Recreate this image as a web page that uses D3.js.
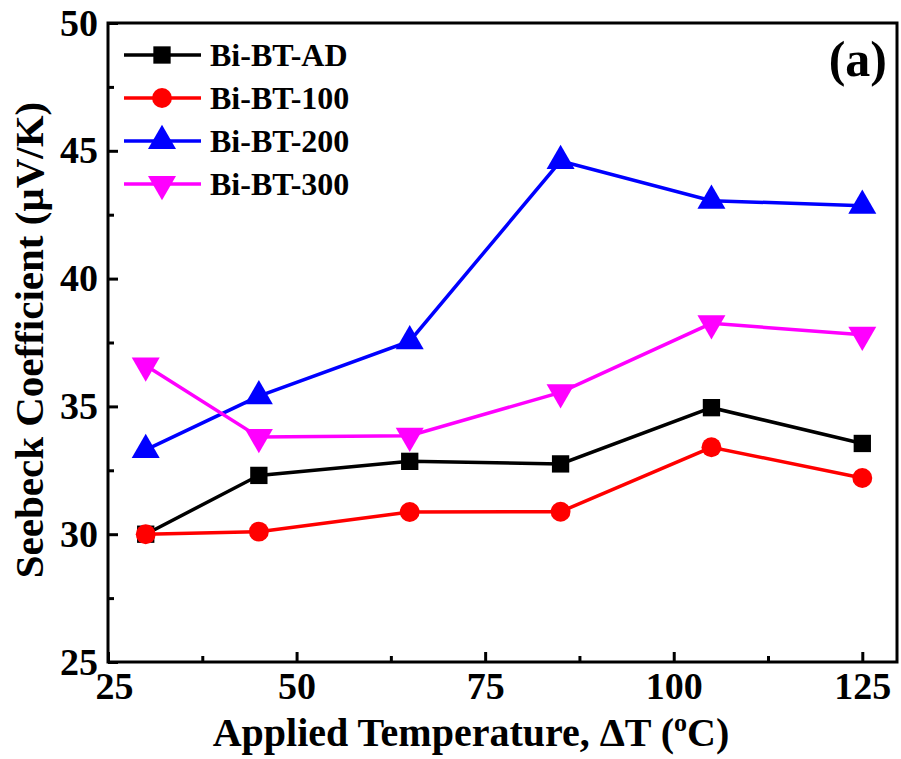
<!DOCTYPE html>
<html lang="en">
<head>
  <meta charset="UTF-8">
  <title>Seebeck Coefficient</title>
  <style>
    body { margin: 0; background: #fff; }
    text { font-family: "Liberation Serif", "Times New Roman", serif; font-weight: bold; }
  </style>
</head>
<body>
  <svg id="chart" width="901" height="759"></svg>
  <script src="https://d3js.org/d3.v7.min.js"></script>
  <script>
    const temps = [30, 45, 65, 85, 105, 125];
    const seriesNames = ["Bi-BT-AD", "Bi-BT-100", "Bi-BT-200", "Bi-BT-300"];
    const valuesAD = [30.0, 32.3, 32.85, 32.75, 34.95, 33.55];
    const values100 = [30.0, 30.1, 30.87, 30.88, 33.4, 32.2];
    const values200 = [33.3, 35.4, 37.55, 44.6, 43.05, 42.85];
    const values300 = [36.6, 33.8, 33.85, 35.55, 38.25, 37.8];
    const xTicks = [25, 50, 75, 100, 125];
    const yTicks = [25, 30, 35, 40, 45, 50];

    const colors = ["#000000", "#ff0000", "#0000ff", "#ff00ff"];
    const symbols = [d3.symbolSquare, d3.symbolCircle, d3.symbolTriangle, d3.symbolTriangle];
    const allValues = [valuesAD, values100, values200, values300];

    const margin = { top: 23, right: 4, bottom: 97, left: 108 };
    const width = 901 - margin.left - margin.right;
    const height = 759 - margin.top - margin.bottom;

    const svg = d3.select("#chart")
      .append("g")
      .attr("transform", `translate(${margin.left}, ${margin.top})`);

    const xScale = d3.scaleLinear().domain([25, 129.6]).range([0, width]);
    const yScale = d3.scaleLinear().domain([25, 50]).range([height, 0]);

    // ticks point inward, major + minor
    const xAxis = d3.axisBottom(xScale).tickValues(xTicks).tickSize(-10).tickPadding(12);
    const yAxis = d3.axisLeft(yScale).tickValues(yTicks).tickSize(-10).tickPadding(10);

    const gx = svg.append("g").attr("transform", `translate(0, ${height})`).call(xAxis);
    const gy = svg.append("g").call(yAxis);
    [gx, gy].forEach(g => {
      g.select(".domain").remove();
      g.selectAll(".tick line").attr("stroke", "#000").attr("stroke-width", 3);
      g.selectAll(".tick text").attr("fill", "#000").style("font-size", "38px");
    });
    gx.selectAll(".tick text").attr("dy", "0.66em");
    // nudge the first x label right so it clears the y "25"
    gx.selectAll(".tick text").filter(d => d === 25).attr("dx", 6);

    svg.append("g").attr("transform", `translate(0, ${height})`)
      .call(d3.axisBottom(xScale).tickValues([37.5, 62.5, 87.5, 112.5]).tickSize(-6).tickFormat(""))
      .call(g => g.select(".domain").remove())
      .selectAll("line").attr("stroke", "#000").attr("stroke-width", 3);
    svg.append("g")
      .call(d3.axisLeft(yScale).tickValues([27.5, 32.5, 37.5, 42.5, 47.5]).tickSize(-6).tickFormat(""))
      .call(g => g.select(".domain").remove())
      .selectAll("line").attr("stroke", "#000").attr("stroke-width", 3);

    // frame
    svg.append("rect")
      .attr("x", 0).attr("y", 0)
      .attr("width", width).attr("height", height)
      .attr("fill", "none").attr("stroke", "#000").attr("stroke-width", 3);

    const line = d3.line()
      .x((d, i) => xScale(temps[i]))
      .y(d => yScale(d));

    const markerSizes = [300, 310, 340, 340];

    allValues.forEach((vals, k) => {
      svg.append("path")
        .datum(vals)
        .attr("fill", "none")
        .attr("stroke", colors[k])
        .attr("stroke-width", 3.5)
        .attr("d", line);
      svg.selectAll(null)
        .data(vals)
        .enter()
        .append("path")
        .attr("d", d3.symbol().type(symbols[k]).size(markerSizes[k]))
        .attr("fill", colors[k])
        .attr("transform", (d, i) => `translate(${xScale(temps[i])}, ${yScale(d)})${k === 3 ? " rotate(180)" : ""}`);
    });

    // legend
    const legend = svg.append("g").attr("transform", "translate(16, 32)");
    seriesNames.forEach((name, k) => {
      const row = legend.append("g").attr("transform", `translate(0, ${k * 43})`);
      row.append("line")
        .attr("x1", 0).attr("x2", 77).attr("y1", 0).attr("y2", 0)
        .attr("stroke", colors[k]).attr("stroke-width", 3.5);
      row.append("path")
        .attr("d", d3.symbol().type(symbols[k]).size(markerSizes[k]))
        .attr("fill", colors[k])
        .attr("transform", `translate(38, 0)${k === 3 ? " rotate(180)" : ""}`);
      row.append("text")
        .attr("x", 86).attr("y", 0).attr("dy", "0.35em")
        .style("font-size", "32px")
        .text(name);
    });

    svg.append("text")
      .attr("x", width - 10).attr("y", 53)
      .attr("text-anchor", "end")
      .style("font-size", "50px")
      .text("(a)");

    // axis titles
    const xTitle = svg.append("text")
      .attr("x", 471 - margin.left).attr("y", 746 - margin.top)
      .attr("text-anchor", "middle")
      .style("font-size", "40px");
    xTitle.append("tspan").text("Applied Temperature, ΔT (");
    xTitle.append("tspan").attr("dy", -15).style("font-size", "26px").text("o");
    xTitle.append("tspan").attr("dy", 15).text("C)");

    svg.append("text")
      .attr("transform", "rotate(-90)")
      .attr("x", -(340 - margin.top)).attr("y", 43 - margin.left)
      .attr("text-anchor", "middle")
      .style("font-size", "41px")
      .text("Seebeck Coefficient (μV/K)");
  </script>
</body>
</html>
